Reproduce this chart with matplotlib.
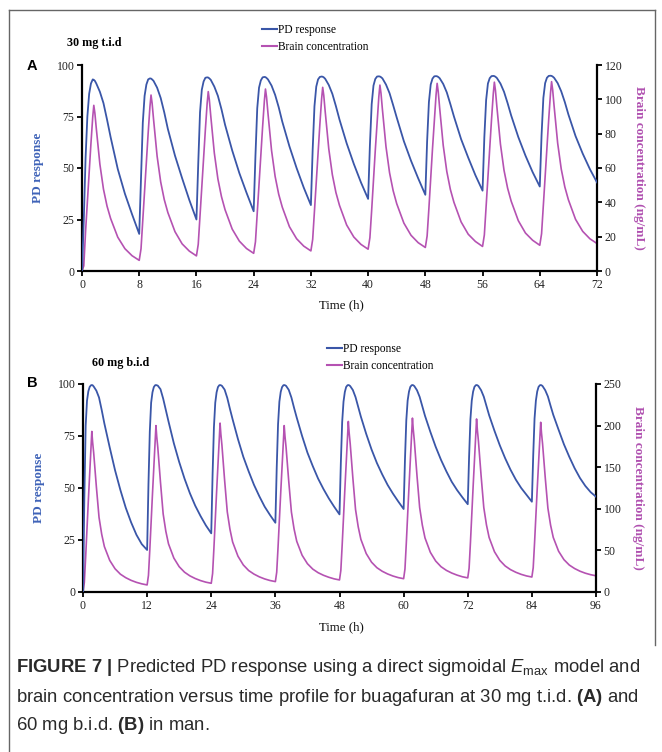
import matplotlib
matplotlib.use('Agg')
import matplotlib.pyplot as plt
from matplotlib.lines import Line2D

plt.rcParams['mathtext.fontset'] = 'custom'
plt.rcParams['mathtext.rm'] = 'Liberation Sans'
plt.rcParams['mathtext.it'] = 'Liberation Sans:italic'
plt.rcParams['mathtext.bf'] = 'Liberation Sans:bold'

SERIF = 'Liberation Serif'
BLUE = '#3a56a8'
PURPLE = '#b552b2'
LBLUE = '#3f63b8'
LPURPLE = '#b050b0'

# ---------------- data: panel A (30 mg t.i.d) ----------------
doses_A = [0, 8, 16, 24, 32, 40, 48, 56, 64]
offsets_A = [0, 0.25, 0.5, 0.75, 1.0, 1.25, 1.5, 1.65, 1.8, 2.0, 2.5, 3, 3.5, 4, 5, 6, 7]
end_A = 72
time_A = [d + o for d in doses_A for o in offsets_A] + [end_A]

pd_A = [
    0, 25, 55, 75, 86, 91, 93, 92.8, 92.3, 91, 87, 81.5, 73.5, 65, 49.5, 37.5, 27.5,
    18, 45, 72, 85, 90.5, 93, 93.5, 93.4, 93, 92.3, 89, 84, 77, 69, 56, 45, 34.5,
    25, 52, 77, 88, 92, 93.8, 94, 93.9, 93.5, 92.8, 89.5, 85, 78.5, 71, 58.5, 47.5, 38,
    29, 56, 79, 89, 92.5, 94, 94.2, 94.1, 93.7, 93, 90, 85.5, 79.5, 72.5, 60.5, 50, 40.5,
    32, 59, 80, 89.5, 93, 94.2, 94.4, 94.3, 94, 93.3, 90.3, 86, 80, 73.5, 62, 52, 43,
    35, 61, 81, 90, 93.2, 94.4, 94.5, 94.4, 94.1, 93.5, 90.5, 86.3, 80.5, 74.5, 63, 53.5, 45,
    37, 63, 82, 90.5, 93.4, 94.5, 94.6, 94.5, 94.2, 93.6, 90.8, 86.7, 81, 75, 64, 55, 46.5,
    39, 65, 83, 91, 93.6, 94.6, 94.7, 94.6, 94.3, 93.7, 91, 87, 81.5, 75.5, 65, 56, 48,
    41, 66, 84, 91.2, 93.8, 94.7, 94.8, 94.7, 94.4, 93.8, 91.2, 87.2, 82, 76, 65.5, 57, 49.5,
    43,
]

brain_A = [
    0, 3, 23.2, 40.5, 57.9, 74.3, 89.7, 96.5, 92, 83, 62.2, 47.7, 37.8, 30.6, 19.7, 13, 8.9,
    6.2, 12.9, 29.3, 46.6, 64, 80.4, 95.8, 102.5, 97.8, 88.5, 66.9, 51.9, 41.6, 34.1, 22.9, 15.8, 11.6,
    8.8, 15.5, 31.8, 49, 66.2, 82.5, 97.8, 104.5, 99.8, 90.4, 68.7, 53.6, 43.3, 35.7, 24.4, 17.4, 13.1,
    10.3, 17, 33.3, 50.5, 67.7, 84, 99.3, 106, 101.3, 91.9, 70.2, 55.1, 44.7, 37.2, 25.8, 18.8, 14.5,
    11.7, 18.4, 34.6, 51.7, 68.9, 85.1, 100.3, 107, 102.3, 92.9, 71.2, 56.1, 45.7, 38.2, 26.8, 19.8, 15.5,
    12.7, 19.4, 35.6, 52.9, 70.1, 86.3, 101.6, 108.3, 103.6, 94.1, 72.4, 57.2, 46.8, 39.2, 27.9, 20.8, 16.5,
    13.7, 20.4, 36.6, 53.9, 71.1, 87.3, 102.6, 109.3, 104.6, 95.1, 73.2, 58, 47.5, 40, 28.6, 21.4, 17.2,
    14.3, 21, 37.3, 54.5, 71.7, 88, 103.3, 110, 105.3, 95.8, 73.9, 58.7, 48.3, 40.7, 29.3, 22.1, 17.9,
    15, 21.7, 37.9, 55, 72.2, 88.4, 103.6, 110.3, 105.6, 96.2, 74.5, 59.4, 49, 41.5, 30.1, 23.1, 18.8,
    16,
]

# ---------------- data: panel B (60 mg b.i.d) ----------------
doses_B = [0, 12, 24, 36, 48, 60, 72, 84]
offsets_B = [0, 0.25, 0.5, 0.75, 1.0, 1.25, 1.5, 1.65, 1.8, 2.0, 2.5, 3, 3.5, 4, 5, 6, 7, 8, 9, 10, 11]
end_B = 96
time_B = [d + o for d in doses_B for o in offsets_B] + [end_B]

pd_B = [
    0, 45, 80, 92, 96.5, 98.6, 99.4, 99.5, 99.4, 98.8, 96.8, 93.5, 87.5, 81, 69.5, 58.5, 49, 40.5, 33.5, 27.5, 23,
    20.2, 51.8, 77.1, 91, 96, 98.5, 99.4, 99.5, 99.4, 99.2, 97.5, 93, 87.5, 82, 71.5, 62.5, 54.5, 47.5, 41.5, 36.5, 32,
    28.2, 56.5, 79.2, 91, 96, 98.5, 99.4, 99.5, 99.4, 99.1, 97.3, 93.3, 88, 83, 73.5, 65, 58, 51.5, 46, 41, 37,
    33.3, 59.6, 80.6, 91.5, 96.2, 98.5, 99.4, 99.5, 99.4, 99.1, 97.2, 93.5, 88.5, 83.8, 75, 67, 60.5, 54.5, 49.5, 45, 41,
    37.3, 62, 81.7, 91.5, 96.2, 98.6, 99.4, 99.5, 99.4, 99, 97.1, 93.7, 89, 84.3, 76, 68.5, 62, 56.5, 51.5, 47.3, 43.5,
    39.9, 63.5, 82.5, 92, 96.3, 98.6, 99.4, 99.5, 99.4, 99, 97, 93.8, 89.2, 84.7, 77, 69.8, 63.5, 58, 53, 49, 45.5,
    42.2, 64.9, 83.1, 92, 96.3, 98.6, 99.4, 99.5, 99.4, 99, 97, 93.9, 89.4, 85, 77.5, 70.5, 64.3, 58.8, 54, 50, 46.7,
    43.4, 65.6, 83.4, 92, 96.4, 98.6, 99.4, 99.5, 99.4, 99, 97, 94, 89.5, 85.2, 78, 71, 65, 59.5, 54.8, 51, 48,
    45.8,
]

brain_B = [
    0, 11.6, 42.5, 77.2, 110, 142.8, 177.6, 193, 180.1, 167.2, 126.6, 89.7, 69.4, 54.6, 38, 27.9, 21.4, 17.2, 14, 11.6, 9.8,
    8.5, 20, 50.6, 85.1, 117.7, 150.2, 184.7, 200, 186.7, 173.5, 131.8, 93.9, 73, 57.9, 40.8, 30.4, 23.8, 19.4, 16.2, 13.7, 11.8,
    10.5, 22.1, 52.9, 87.5, 120.2, 153, 187.6, 203, 189.7, 176.3, 134.4, 96.3, 75.4, 60.1, 43, 32.5, 25.8, 21.5, 18.2, 15.7, 13.8,
    12.5, 23.8, 53.8, 87.5, 119.4, 151.3, 185, 200, 187, 174, 133.2, 96.1, 75.7, 60.9, 44.2, 34, 27.5, 23.2, 20.1, 17.7, 15.8,
    14.5, 25.9, 56.4, 90.7, 123.1, 155.5, 189.8, 205, 191.8, 178.5, 137, 99.2, 78.4, 63.3, 46.2, 35.8, 29.2, 24.9, 21.7, 19.2, 17.3,
    16, 27.6, 58.5, 93.2, 126, 158.8, 193.6, 209, 195.6, 182.1, 139.9, 101.5, 80.4, 65, 47.7, 37.2, 30.4, 26, 22.8, 20.3, 18.3,
    17, 28.5, 59, 93.4, 125.9, 158.3, 192.7, 208, 194.7, 181.4, 139.6, 101.6, 80.7, 65.5, 48.4, 38, 31.3, 26.9, 23.7, 21.2, 19.3,
    18, 29.2, 58.9, 92.4, 124, 155.6, 189.1, 204, 191.1, 178.2, 137.6, 100.7, 80.4, 65.6, 49, 38.9, 32.4, 28.2, 25, 22.6, 20.8,
    19.5,
]

xticks_A = [0, 8, 16, 24, 32, 40, 48, 56, 64, 72]
xticks_B = [0, 12, 24, 36, 48, 60, 72, 84, 96]
pd_ticks = [0, 25, 50, 75, 100]
brain_ticks_A = [0, 20, 40, 60, 80, 100, 120]
brain_ticks_B = [0, 50, 100, 150, 200, 250]

labels = ['PD response', 'Brain concentration']
dose_titles = ['30 mg t.i.d', '60 mg b.i.d']
panel_letters = ['A', 'B']

W, H = 662, 752
fig = plt.figure(figsize=(W / 100, H / 100), dpi=100)


def fx(px):
    return px / W


def fy(py):
    return 1 - py / H


def make_panel(rect, t, pd, br, xticks, bticks, bmax, xmax, letter, title,
               letter_xy, title_xy, leg_xy, xlabel_y):
    ax = fig.add_axes(rect)
    ax2 = ax.twinx()
    ax.plot(t, pd, color=BLUE, lw=1.3, zorder=3)
    ax2.plot(t, br, color=PURPLE, lw=1.2, zorder=2)
    ax.set_zorder(ax2.get_zorder() + 1)
    ax.patch.set_visible(False)
    ax.set_xlim(0, xmax)
    ax.set_ylim(0, 100)
    ax2.set_ylim(0, bmax)
    ax.set_xticks(xticks)
    ax.set_yticks(pd_ticks)
    ax2.set_yticks(bticks)
    for a in (ax, ax2):
        a.spines['top'].set_visible(False)
        for s in ('left', 'right', 'bottom'):
            a.spines[s].set_linewidth(1.6)
            a.spines[s].set_color('black')
        a.tick_params(direction='out', length=3.5, width=1.3, pad=2,
                      labelsize=8.5, labelcolor='#222222')
        for lab in a.get_xticklabels() + a.get_yticklabels():
            lab.set_fontfamily(SERIF)
    ax.spines['right'].set_visible(False)
    ax2.spines['left'].set_visible(False)
    ax2.spines['bottom'].set_visible(False)
    ax.set_ylabel('PD response', fontfamily=SERIF, fontweight='bold',
                  fontsize=9.5, color=LBLUE, labelpad=9)
    ax2.set_ylabel('Brain concentration (ng/mL)', fontfamily=SERIF,
                   fontweight='bold', fontsize=9.5, color=LPURPLE,
                   rotation=270, labelpad=16)
    fig.text(fx(341), fy(xlabel_y), 'Time (h)', fontfamily=SERIF,
             fontsize=9.3, ha='center', va='center', color='#111111')
    fig.text(fx(letter_xy[0]), fy(letter_xy[1]), letter,
             fontfamily='Liberation Sans', fontweight='bold', fontsize=10.5,
             ha='left', va='center')
    fig.text(fx(title_xy[0]), fy(title_xy[1]), title, fontfamily=SERIF,
             fontweight='bold', fontsize=8.7, ha='left', va='center')
    handles = [Line2D([], [], color=BLUE, lw=1.5),
               Line2D([], [], color=PURPLE, lw=1.5)]
    fig.legend(handles, labels, loc='upper left',
               bbox_to_anchor=(fx(leg_xy[0]), fy(leg_xy[1])),
               frameon=False, borderpad=0, borderaxespad=0,
               handlelength=1.3, handletextpad=0.05, labelspacing=0.45,
               prop={'family': SERIF, 'size': 8.3})
    return ax, ax2


make_panel([fx(82), fy(271), fx(597) - fx(82), fy(65) - fy(271)],
           time_A, pd_A, brain_A, xticks_A, brain_ticks_A, 120, 72,
           panel_letters[0], dose_titles[0], (27, 66), (67, 43), (262, 24), 305)
make_panel([fx(83), fy(592), fx(596) - fx(83), fy(384) - fy(592)],
           time_B, pd_B, brain_B, xticks_B, brain_ticks_B, 250, 96,
           panel_letters[1], dose_titles[1], (27, 383), (92, 363), (327, 343), 627)

# frame around the figure area
frame_col = '#666666'
fig.add_artist(Line2D([fx(8.5), fx(8.5)], [fy(9.5), 0], color=frame_col, lw=1.0))
fig.add_artist(Line2D([fx(8.5), fx(655)], [fy(9.5), fy(9.5)], color=frame_col, lw=1.0))
fig.add_artist(Line2D([fx(655), fx(655)], [fy(9.5), fy(645)], color=frame_col, lw=1.0))

# caption
cap_kw = dict(fontfamily='Liberation Sans', fontsize=13.3, color='#2a2a2a',
              ha='left', va='center')
fig.text(fx(16), fy(668),
         r'$\mathbf{FIGURE\ 7\ |}$ Predicted PD response using a direct sigmoidal '
         r'$E_{\mathrm{max}}$ model and', **cap_kw)
fig.text(fx(16), fy(697),
         r'brain concentration versus time profile for buagafuran at 30 mg t.i.d. '
         r'$\mathbf{(A)}$ and', **cap_kw)
fig.text(fx(16), fy(725), r'60 mg b.i.d. $\mathbf{(B)}$ in man.', **cap_kw)

fig.savefig('out.png', dpi=100)
